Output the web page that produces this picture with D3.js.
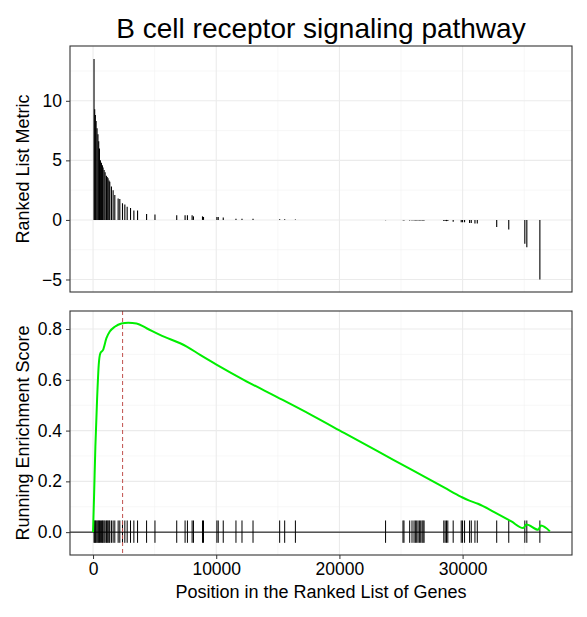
<!DOCTYPE html>
<html>
<head>
<meta charset="utf-8" />
<script src="https://d3js.org/d3.v7.min.js"></script>
<style>
  body { margin: 0; background: #fff; }
  text { font-family: Arial, "Liberation Sans", sans-serif; }
</style>
</head>
<body>
<svg width="587" height="617"></svg>
<script>
// gene-set hit positions and their ranked metric values
var hitPos = [80, 135, 190, 250, 326, 400, 460, 520, 598, 680, 760, 815, 900, 980, 1087, 1150, 1220, 1300, 1359,
  1494, 1630, 1767, 2038, 2173, 2391, 2581, 2771, 3043, 3315, 3614, 4347, 5027, 6793, 7472, 7663, 8043, 8152,
  8885, 8967, 10053, 10162, 10570, 11602, 12091, 12987, 15150, 15557, 16427, 23747, 25160, 25241, 25703, 25893,
  26056, 26165, 26274, 26382, 26491, 26600, 26709, 26790, 26872, 28474, 28583, 28692, 28800, 29235, 29887,
  29996, 30159, 30567, 30703, 31002, 31192, 32768, 33746, 35050, 35213, 36272];
var metric = [13.5, 9.3, 8.8, 8.3, 7.7, 7.2, 6.6, 6.0, 5.0, 4.8, 4.6, 4.4, 4.2, 4.0, 3.7, 3.6, 3.5, 3.3, 3.2,
  2.8, 2.5, 2.1, 1.8, 1.75, 1.4, 1.3, 1.1, 1.0, 0.8, 0.8, 0.5, 0.45, 0.4, 0.4, 0.4, 0.4, 0.3, 0.3, 0.25, 0.25,
  0.25, 0.2, 0.1, 0.1, 0.1, 0.05, 0.05, 0.03, -0.02, -0.03, -0.04, -0.04, -0.04, -0.05, -0.05, -0.05, -0.05,
  -0.05, -0.05, -0.05, -0.05, -0.05, -0.1, -0.1, -0.1, -0.1, -0.15, -0.2, -0.2, -0.2, -0.25, -0.25, -0.3,
  -0.3, -0.6, -0.8, -2.0, -2.3, -5.0];
// running enrichment score trace
var esPos = [0, 82, 190, 326, 462, 598, 815, 1087, 1359, 1767, 2309, 2852, 3532, 4347, 5434, 7608, 8694,
  10053, 12227, 14944, 17661, 20378, 23095, 25812, 28529, 29887, 30500, 31246, 32604, 33963, 34914, 35185,
  36136, 36353, 37087];
var esVal = [0, 0.14, 0.336, 0.52, 0.659, 0.705, 0.718, 0.764, 0.79, 0.809, 0.822, 0.825, 0.822, 0.803,
  0.777, 0.731, 0.698, 0.659, 0.6, 0.532, 0.463, 0.391, 0.319, 0.247, 0.175, 0.139, 0.125, 0.112, 0.078,
  0.042, 0.016, 0.03, 0.009, 0.026, 0.003];
var peakPos = 2400;
var xTicks = [0, 10000, 20000, 30000];
var topTicks = [-5, 0, 5, 10];
var botTicks = [0, 0.2, 0.4, 0.6, 0.8];

var svg = d3.select("svg");
var L = 70, R = 572;
var x = d3.scaleLinear().domain([-1870, 38880]).range([L, R]);
var yTop = d3.scaleLinear().domain([-6.05, 14.6]).range([292, 46]);
var yBot = d3.scaleLinear().domain([-0.09, 0.871]).range([555, 311]);

function grid(y, major, minorX, minorY, top, bottom) {
  var g = svg.append("g");
  minorX.forEach(function (v) {
    g.append("line").attr("x1", x(v)).attr("x2", x(v)).attr("y1", top).attr("y2", bottom)
      .attr("stroke", "#f2f2f2").attr("stroke-width", 0.6);
  });
  minorY.forEach(function (v) {
    g.append("line").attr("x1", L).attr("x2", R).attr("y1", y(v)).attr("y2", y(v))
      .attr("stroke", "#f2f2f2").attr("stroke-width", 0.6);
  });
  xTicks.forEach(function (v) {
    g.append("line").attr("x1", x(v)).attr("x2", x(v)).attr("y1", top).attr("y2", bottom)
      .attr("stroke", "#ebebeb").attr("stroke-width", 1.1);
  });
  major.forEach(function (v) {
    g.append("line").attr("x1", L).attr("x2", R).attr("y1", y(v)).attr("y2", y(v))
      .attr("stroke", "#ebebeb").attr("stroke-width", 1.1);
  });
}
var minorX = [5000, 15000, 25000, 35000];
grid(yTop, topTicks, minorX, [-2.5, 2.5, 7.5, 12.5], 46, 292);
grid(yBot, botTicks, minorX, [0.1, 0.3, 0.5, 0.7], 311, 555);

// top panel: ranked metric bars
svg.append("g").selectAll("line").data(hitPos).enter().append("line")
  .attr("x1", function (d) { return x(d); }).attr("x2", function (d) { return x(d); })
  .attr("y1", yTop(0)).attr("y2", function (d, i) { return yTop(metric[i]); })
  .attr("stroke", "#000").attr("stroke-width", 1.1);

// bottom panel
svg.append("line").attr("x1", L).attr("x2", R).attr("y1", yBot(0)).attr("y2", yBot(0))
  .attr("stroke", "#000").attr("stroke-width", 1);
svg.append("g").selectAll("line").data(hitPos).enter().append("line")
  .attr("x1", function (d) { return x(d); }).attr("x2", function (d) { return x(d); })
  .attr("y1", yBot(-0.042)).attr("y2", yBot(0.046))
  .attr("stroke", "#000").attr("stroke-width", 1);
svg.append("line").attr("x1", x(peakPos)).attr("x2", x(peakPos)).attr("y1", 311).attr("y2", 555)
  .attr("stroke", "#c0504d").attr("stroke-width", 1).attr("stroke-dasharray", "4,3");
var line = d3.line().curve(d3.curveMonotoneX)
  .x(function (d, i) { return x(esPos[i]); }).y(function (d) { return yBot(d); });
svg.append("path").datum(esVal).attr("d", line).attr("fill", "none")
  .attr("stroke", "#00ee00").attr("stroke-width", 2);

// panel borders
[[46, 292], [311, 555]].forEach(function (p) {
  svg.append("rect").attr("x", L).attr("y", p[0]).attr("width", R - L).attr("height", p[1] - p[0])
    .attr("fill", "none").attr("stroke", "#333").attr("stroke-width", 1.1);
});

// axes
var ya = svg.append("g").attr("transform", "translate(" + L + ",0)")
  .call(d3.axisLeft(yTop).tickValues(topTicks).tickSize(4).tickPadding(4));
var yb = svg.append("g").attr("transform", "translate(" + L + ",0)")
  .call(d3.axisLeft(yBot).tickValues(botTicks).tickSize(4).tickPadding(4).tickFormat(d3.format(".1f")));
var xa = svg.append("g").attr("transform", "translate(0,555)")
  .call(d3.axisBottom(x).tickValues(xTicks).tickSize(4).tickPadding(4).tickFormat(d3.format("d")));
[ya, yb, xa].forEach(function (a) {
  a.select(".domain").remove();
  a.selectAll(".tick line").attr("stroke", "#333");
  a.selectAll(".tick text").attr("font-size", 17.5).attr("fill", "#000")
    .style("font-family", "Arial, 'Liberation Sans', sans-serif");
});

svg.append("text").attr("x", 321).attr("y", 38).attr("text-anchor", "middle")
  .attr("font-size", 28).text("B cell receptor signaling pathway");
svg.append("text").attr("x", 321).attr("y", 598).attr("text-anchor", "middle")
  .attr("font-size", 18).text("Position in the Ranked List of Genes");
svg.append("text").attr("transform", "translate(29,169) rotate(-90)").attr("text-anchor", "middle")
  .attr("font-size", 18).text("Ranked List Metric");
svg.append("text").attr("transform", "translate(29,433) rotate(-90)").attr("text-anchor", "middle")
  .attr("font-size", 18).text("Running Enrichment Score");
</script>
</body>
</html>
